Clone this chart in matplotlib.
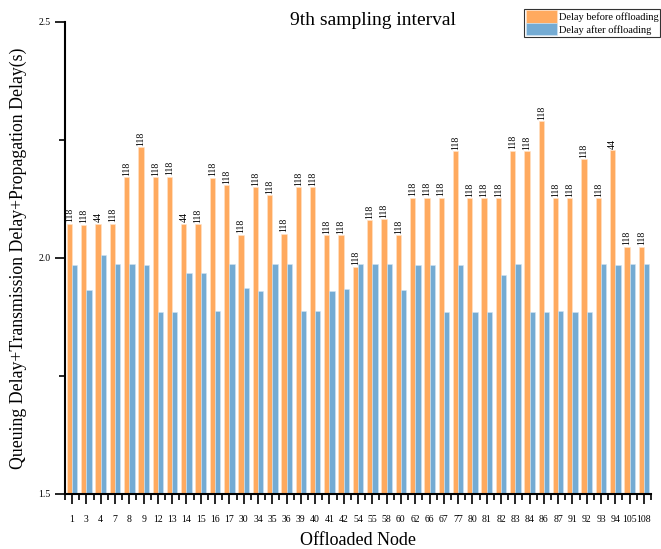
import numpy as np
import matplotlib.pyplot as plt
from matplotlib.ticker import MultipleLocator

nodes = ['1', '3', '4', '7', '8', '9', '12', '13', '14', '15', '16', '17', '30', '34',
         '35', '36', '39', '40', '41', '42', '54', '55', '58', '60', '62', '66', '67',
         '77', '80', '81', '82', '83', '84', '86', '87', '91', '92', '93', '94', '105', '108']

delay_before = [2.072, 2.070, 2.072, 2.072, 2.171, 2.234, 2.171, 2.172, 2.072, 2.071,
                2.170, 2.154, 2.049, 2.149, 2.132, 2.051, 2.149, 2.149, 2.048, 2.048,
                1.981, 2.080, 2.082, 2.048, 2.127, 2.127, 2.127, 2.226, 2.126, 2.126,
                2.126, 2.227, 2.226, 2.289, 2.126, 2.126, 2.209, 2.126, 2.228, 2.024, 2.024]

delay_after = [1.985, 1.931, 2.006, 1.986, 1.986, 1.985, 1.886, 1.886, 1.967, 1.968,
               1.887, 1.986, 1.936, 1.929, 1.987, 1.987, 1.888, 1.888, 1.930, 1.934,
               1.986, 1.987, 1.987, 1.932, 1.984, 1.985, 1.886, 1.985, 1.886, 1.886,
               1.964, 1.987, 1.886, 1.886, 1.887, 1.886, 1.886, 1.986, 1.984, 1.986, 1.987]

# destination node each task was moved to
target = ['118', '118', '44', '118', '118', '118', '118', '118', '44', '118', '118',
          '118', '118', '118', '118', '118', '118', '118', '118', '118', '118', '118',
          '118', '118', '118', '118', '118', '118', '118', '118', '118', '118', '118',
          '118', '118', '118', '118', '118', '44', '118', '118']

plt.rcParams['font.family'] = ['Liberation Serif', 'DejaVu Serif']

fig = plt.figure(figsize=(6.61, 5.49), dpi=100)
ax = fig.add_axes([0.0983, 0.1002, 0.8867, 0.8603])

x = np.arange(len(nodes))
w = 0.37
orange = '#FFAA5F'
blue = '#74ABD3'
ax.bar(x - w / 2, delay_before, w, color=orange,
       edgecolor='#FFE3C8', linewidth=0.4, label='Delay before offloading')
ax.bar(x + w / 2, delay_after, w, color=blue,
       edgecolor='#D2E4F2', linewidth=0.4, label='Delay after offloading')

for xi, v, t in zip(x, delay_before, target):
    ax.text(xi - w / 2, v + 0.003, t, rotation=90, ha='center', va='bottom', fontsize=7)

ax.set_xlim(-0.5, len(nodes) - 0.5)
ax.set_ylim(1.5, 2.5)
ax.set_xticks(x)
ax.set_xticklabels(nodes, fontsize=7)
ax.xaxis.set_minor_locator(MultipleLocator(1, offset=0.5))
ax.set_yticks([1.5, 2.0, 2.5])
ax.set_yticklabels(['1.5', '2.0', '2.5'], fontsize=7)
ax.yaxis.set_minor_locator(MultipleLocator(0.25))
ax.tick_params(axis='both', which='major', length=7, width=1.2, direction='out')
ax.tick_params(axis='both', which='minor', length=4, width=1.2, direction='out')
ax.tick_params(axis='x', which='major', pad=8)

for side in ['top', 'right']:
    ax.spines[side].set_visible(False)
for side in ['left', 'bottom']:
    ax.spines[side].set_linewidth(1.5)

ax.set_xlabel('Offloaded Node', fontsize=13, labelpad=6)
ax.set_ylabel('Queuing Delay+Transmission Delay+Propagation Delay(s)', fontsize=12.8, labelpad=8)
ax.text(0.526, 1.02, '9th sampling interval', transform=ax.transAxes,
        ha='center', va='top', fontsize=14)

leg = ax.legend(loc='upper right', bbox_to_anchor=(1.0154, 1.027), fontsize=7.5,
                frameon=True, fancybox=False, handlelength=3.0, handleheight=1.45,
                handletextpad=0.15, borderpad=0.15, labelspacing=0.0, borderaxespad=0)
leg.get_frame().set_edgecolor('black')
leg.get_frame().set_linewidth(0.8)

fig.savefig('out.png', dpi=100)
